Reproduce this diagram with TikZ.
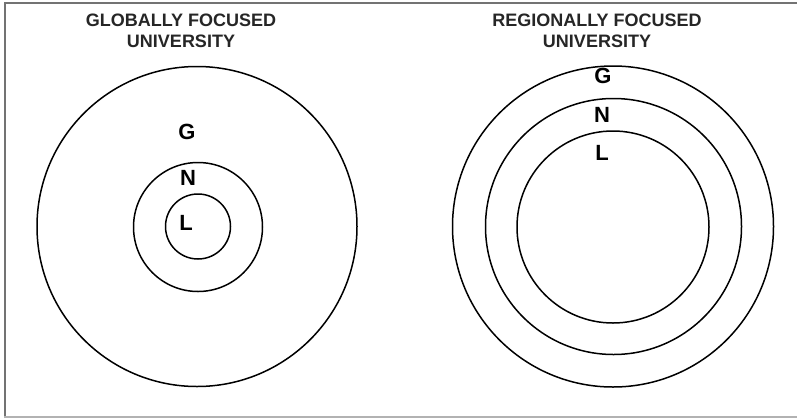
\documentclass[tikz,border=0pt]{standalone}
\usepackage{fontspec}
\setmainfont{Liberation Sans}
\begin{document}
\begin{tikzpicture}[x=1pt,y=-1pt,
  ring/.style={draw=black,line width=1.5pt,circle,inner sep=0pt},
  ttl/.style={font=\fontsize{18}{21}\selectfont\bfseries,align=center,text=black!85},
  lbl/.style={font=\fontsize{22}{24}\selectfont\bfseries,text=black,inner sep=0pt}]
\useasboundingbox (0,0) rectangle (797,418);
\fill[white] (0,0) rectangle (797,418);
% frame
\draw[line width=2pt,black!55] (4,2.5) -- (797,2.5);
\draw[line width=2pt,black!55] (5,2) -- (5,418);
\draw[line width=1.5pt,black!30] (4,417) -- (797,417);
% titles
\node[ttl] (t1) at (181,30.5) {GLOBALLY FOCUSED\\UNIVERSITY};
\node[ttl] (t2) at (597,30.5) {REGIONALLY FOCUSED\\UNIVERSITY};
% left circles
\node[ring,minimum size=320pt] (lg) at (197,226.5) {};
\node[ring,minimum size=129pt] (ln) at (198,227) {};
\node[ring,minimum size=65pt] (ll) at (198,226.5) {};
% right circles
\node[ring,minimum size=321pt] (rg) at (613,226.5) {};
\node[ring,minimum size=256pt] (rn) at (613.5,226.5) {};
\node[ring,minimum size=192pt] (rl) at (613,227) {};
% letters
\node[lbl] (gl) at (187,131.5) {G};
\node[lbl] (nl) at (188,177.5) {N};
\node[lbl] (ll2) at (186,223) {L};
\node[lbl] (gr) at (603,75.5) {G};
\node[lbl] (nr) at (602,115) {N};
\node[lbl] (lr) at (602,152.5) {L};
\end{tikzpicture}
\end{document}
